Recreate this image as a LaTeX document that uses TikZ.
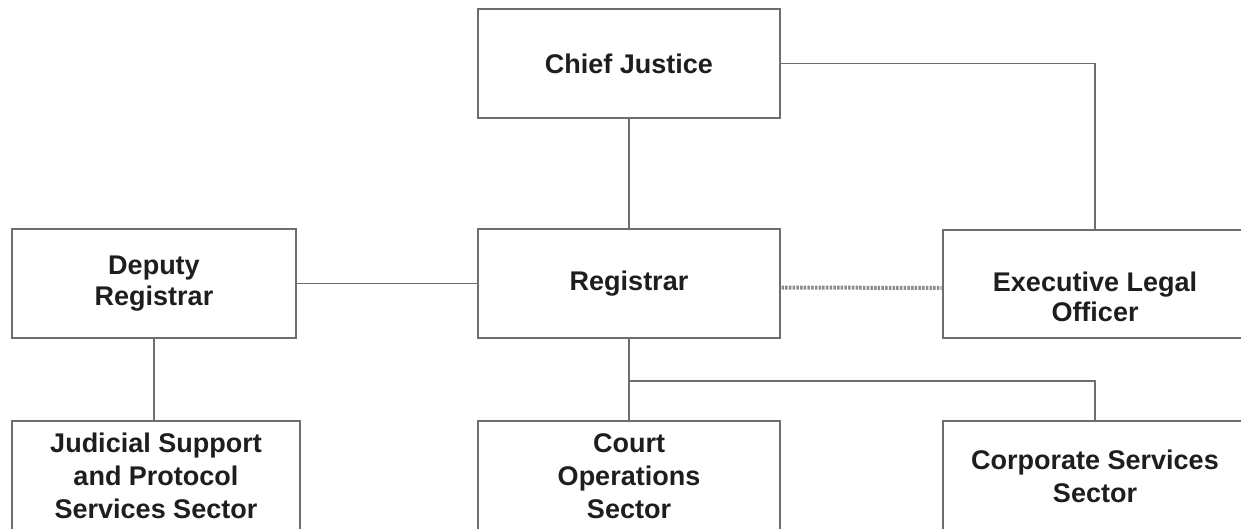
\documentclass[tikz,border=0pt]{standalone}
\usepackage{fontspec}
\setmainfont{Liberation Sans}
\definecolor{linegray}{HTML}{6E6E6E}
\definecolor{dashgray}{HTML}{8C8C8C}
\definecolor{txt}{HTML}{1E1E1E}
\begin{document}
\begin{tikzpicture}[x=1pt,y=-1pt,
  orgbox/.style={draw=linegray,line width=1.5pt,fill=white,inner sep=0pt,
    align=center,text=txt,font=\fontsize{27}{33}\selectfont\bfseries},
  link/.style={draw=linegray,line width=1.5pt},
  duallink/.style={draw=dashgray,line width=4pt,dash pattern=on 2.5pt off 1.2pt}]
\useasboundingbox (0,0) rectangle (1241,529);
\clip (0,0) rectangle (1241,529);
% boxes
\node[orgbox,minimum width=302pt,minimum height=109pt] (cj) at (629,63.5) {Chief Justice};
\node[orgbox,minimum width=302pt,minimum height=109pt] (reg) at (629,283.5) {Registrar};
\node[orgbox,minimum width=284pt,minimum height=109pt,font=\fontsize{27}{31}\selectfont\bfseries] (dep) at (154,283.5) {Deputy\\Registrar};
\node[orgbox,minimum width=304pt,minimum height=108pt] (exec) at (1095,284) {};
\node[align=center,text=txt,font=\fontsize{27}{30}\selectfont\bfseries] (exectext) at (1095,297) {Executive Legal\\Officer};
\node[orgbox,minimum width=288pt,minimum height=110pt] (jud) at (156,476) {Judicial Support\\and Protocol\\Services Sector};
\node[orgbox,minimum width=302pt,minimum height=110pt] (court) at (629,476) {Court\\Operations\\Sector};
\node[orgbox,minimum width=304pt,minimum height=110pt] (corp) at (1095,476) {Corporate Services\\Sector};
\coordinate (junc) at (629,381);
% connectors
\draw[link] (cj.south) -- (reg.north);
\draw[link] (cj.east) -| (exec.north);
\draw[link] (dep.east) -- (reg.west);
\draw[duallink] ([yshift=-4pt,xshift=0.75pt]reg.east) -- ([yshift=-4pt,xshift=-0.75pt]exec.west);
\draw[link] (dep.south) -- (dep.south |- jud.north);
\draw[link] (reg.south) -- (court.north);
\draw[link] (junc) -| (corp.north);
\end{tikzpicture}
\end{document}
